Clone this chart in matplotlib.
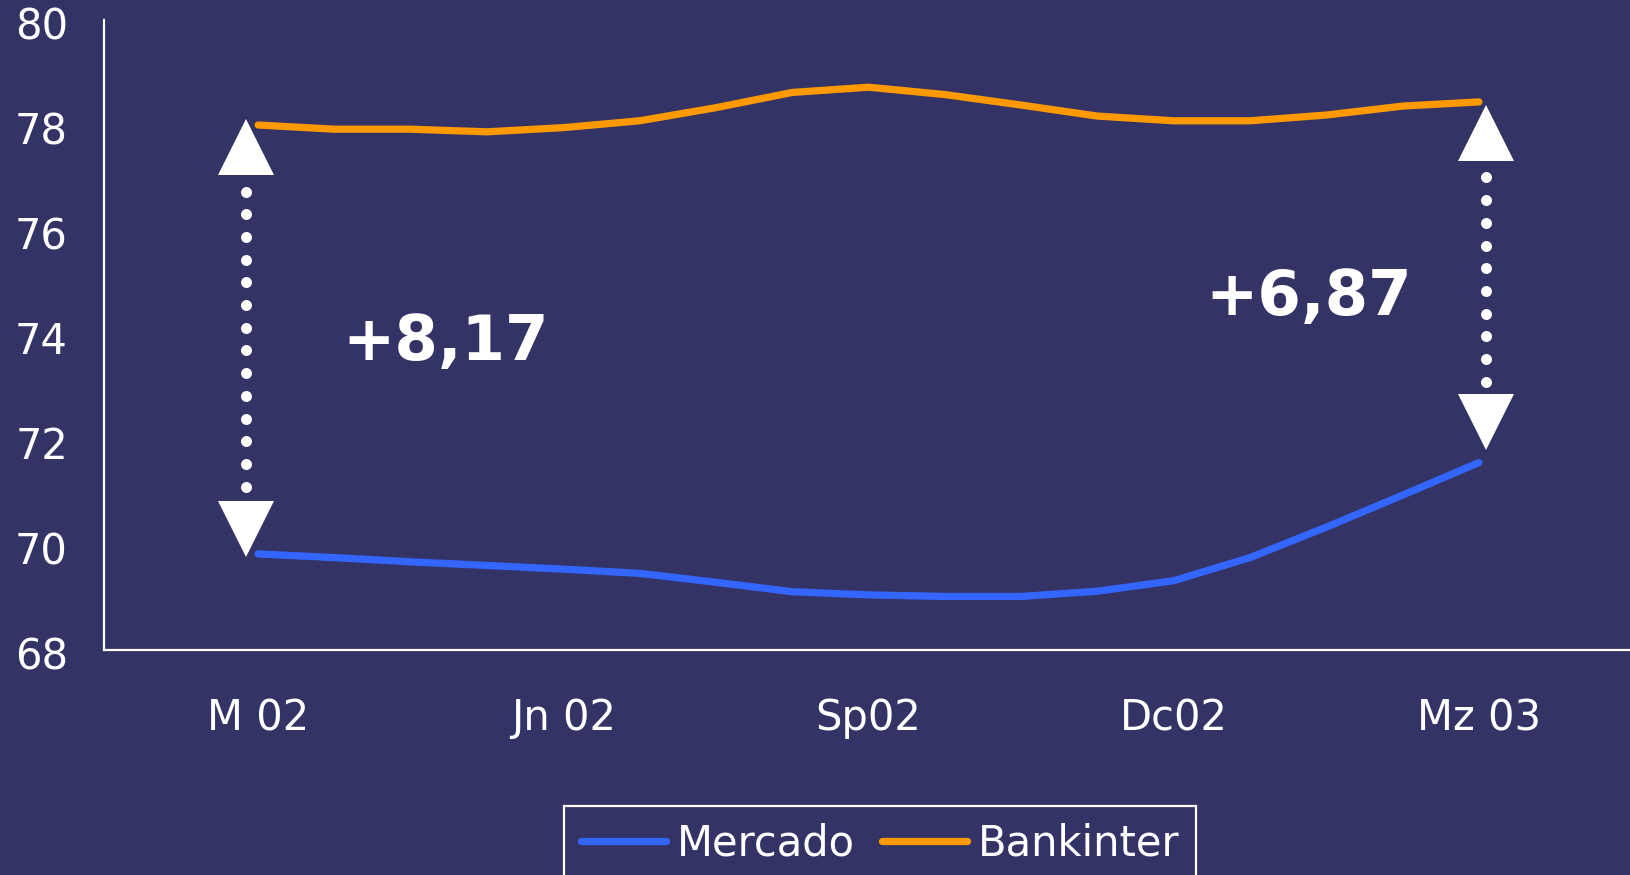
import matplotlib
matplotlib.use("Agg")
import matplotlib.pyplot as plt
from matplotlib.transforms import IdentityTransform, ScaledTranslation
import numpy as np

# ---------------- data ----------------
periods = list(range(17))                       # 17 periods, Mar-02 .. Mar-03
tick_positions = [0, 4, 8, 12, 16]
tick_labels = ["M 02", "Jn 02", "Sp02", "Dc02", "Mz 03"]
mercado = [69.83, 69.76, 69.68, 69.61, 69.54, 69.46, 69.29, 69.11, 69.05,
           69.02, 69.02, 69.12, 69.32, 69.76, 70.34, 70.95, 71.57]
bankinter = [78.00, 77.92, 77.92, 77.87, 77.95, 78.08, 78.33, 78.62, 78.72,
             78.58, 78.38, 78.17, 78.08, 78.08, 78.19, 78.36, 78.44]
series_names = ["Mercado", "Bankinter"]
y_ticks = [68, 70, 72, 74, 76, 78, 80]

# ---------------- style ----------------
BG = "#343366"
BLUE = "#3366FF"
ORANGE = "#FF9900"
WHITE = "white"
FS = 30

plt.rcParams["font.family"] = ["DejaVu Sans"]
fig = plt.figure(figsize=(16.3, 8.75), dpi=100, facecolor=BG)
ax = fig.add_axes([104 / 1630, 225 / 875, 1 - 104 / 1630, 630 / 875])
ax.set_facecolor(BG)

ax.plot(periods, mercado, color=BLUE, lw=5.2, solid_capstyle="round",
        label=series_names[0], zorder=3)
ax.plot(periods, bankinter, color=ORANGE, lw=5.2, solid_capstyle="round",
        label=series_names[1], zorder=3)

ax.set_xlim(-2.02, 17.98)
ax.set_ylim(68, 80)
ax.set_yticks(y_ticks)
ax.set_yticklabels([str(v) for v in y_ticks])
ax.set_xticks(tick_positions)
ax.set_xticklabels(tick_labels)
ax.tick_params(axis="both", length=0, colors=WHITE, labelsize=FS)
ax.tick_params(axis="y", pad=26)
ax.tick_params(axis="x", pad=34)
shift = ScaledTranslation(0, -3 / 100, fig.dpi_scale_trans)
for lbl in ax.get_yticklabels():
    lbl.set_transform(lbl.get_transform() + shift)
for s in ("top", "right"):
    ax.spines[s].set_visible(False)
for s in ("left", "bottom"):
    ax.spines[s].set_color(WHITE)
    ax.spines[s].set_linewidth(1.6)

# ---------------- gap arrows ----------------
ident = IdentityTransform()
MS = 40                      # triangle size in points
MS_PX = MS * fig.dpi / 72


def gap_arrow(idx, dx, top_off, bot_off):
    xp, yt = ax.transData.transform((periods[idx], bankinter[idx]))
    _, yb = ax.transData.transform((periods[idx], mercado[idx]))
    xp += dx
    apex_t = yt + top_off
    apex_b = yb + bot_off
    ax.plot([xp], [apex_t - MS_PX / 2], marker="^", ms=MS, mew=0,
            color=WHITE, ls="none", transform=ident, zorder=4, clip_on=False)
    ax.plot([xp], [apex_b + MS_PX / 2], marker="v", ms=MS, mew=0,
            color=WHITE, ls="none", transform=ident, zorder=4, clip_on=False)
    base_t = apex_t - MS_PX
    base_b = apex_b + MS_PX
    d = np.arange(17, (base_t - base_b) - 10, 22.7)
    ax.plot(np.full(len(d), xp), base_t - d, marker="o", ms=7.9, mew=0,
            color=WHITE, ls="none", transform=ident, zorder=4, clip_on=False)


gap_arrow(0, -12, 6, -3)
gap_arrow(16, 7, -3, 13)


def gap_label(idx):
    g = bankinter[idx] - mercado[idx]
    return "+" + f"{g:.2f}".replace(".", ",")


ax.text(2.46, 73.52, gap_label(0), color=WHITE, fontsize=45,
        fontweight="bold", ha="center", va="baseline", zorder=5)
ax.text(13.77, 74.38, gap_label(16), color=WHITE, fontsize=45,
        fontweight="bold", ha="center", va="baseline", zorder=5)

# ---------------- legend ----------------
leg = fig.legend(loc="upper center", bbox_to_anchor=(880 / 1630, 1 - 806 / 875),
                 ncol=2, frameon=True, fancybox=False, fontsize=FS,
                 handlelength=2.05, handletextpad=0.25, columnspacing=0.65,
                 borderaxespad=0, labelcolor=WHITE)
fr = leg.get_frame()
fr.set_facecolor(BG)
fr.set_edgecolor(WHITE)
fr.set_linewidth(1.6)
fr.set_alpha(1)

fig.savefig("out.png", dpi=100, facecolor=BG)
